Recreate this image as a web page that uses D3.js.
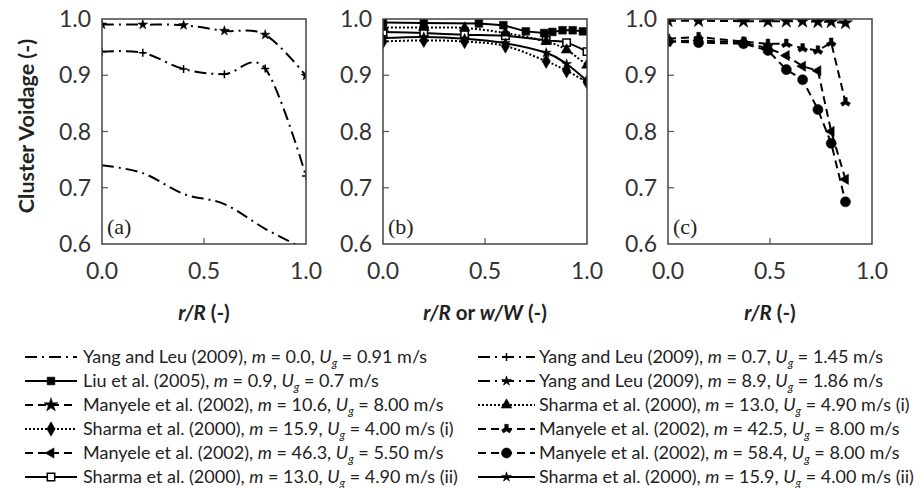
<!DOCTYPE html>
<html>
<head>
<meta charset="utf-8">
<script src="https://cdn.jsdelivr.net/npm/d3@7"></script>
<style>
  body { margin: 0; background: #fff; }
  svg { display: block; font-family: Lato, "Open Sans", sans-serif; }
</style>
</head>
<body>
<svg id="chart" width="919" height="488"></svg>
<script>
// data
const yTicks = [0.6, 0.7, 0.8, 0.9, 1.0]
const xTicks = [0.0, 0.5, 1.0]
const panelTags = ['(a)', '(b)', '(c)']
const xTitles = [['r/R', ' (-)'], ['r/R', ' or ', 'w/W', ' (-)'], ['r/R', ' (-)']]

const yangR = [0, 0.2, 0.4, 0.6, 0.8, 1.0]
const yang00 = [0.74, 0.726, 0.689, 0.671, 0.627, 0.59]
const yang07 = [0.942, 0.94, 0.911, 0.902, 0.912, 0.721]
const yang89 = [0.99, 0.99, 0.989, 0.979, 0.972, 0.899]
const liuW = [0, 0.2, 0.47, 0.59, 0.7, 0.79, 0.83, 0.88, 0.93, 0.98]
const liu09 = [0.994, 0.993, 0.992, 0.989, 0.978, 0.975, 0.977, 0.98, 0.98, 0.978]
const sharmaR = [0, 0.2, 0.4, 0.6, 0.8, 0.9, 1.0]
const sharma159i = [0.96, 0.962, 0.96, 0.952, 0.925, 0.908, 0.888]
const sharma159ii = [0.966, 0.968, 0.965, 0.957, 0.94, 0.92, 0.89]
const sharma130i = [0.985, 0.985, 0.984, 0.975, 0.96, 0.945, 0.918]
const sharma130ii = [0.977, 0.975, 0.972, 0.97, 0.962, 0.958, 0.942]
const manyeleR = [0, 0.15, 0.37, 0.49, 0.58, 0.66, 0.735, 0.8, 0.87]
const manyele106 = [0.997, 0.997, 0.996, 0.996, 0.996, 0.996, 0.995, 0.995, 0.993]
const manyele425 = [0.965, 0.968, 0.96, 0.956, 0.956, 0.948, 0.944, 0.958, 0.852]
const manyele463 = [0.96, 0.962, 0.958, 0.948, 0.935, 0.916, 0.908, 0.80, 0.715]
const manyele584 = [0.96, 0.958, 0.956, 0.944, 0.91, 0.892, 0.839, 0.779, 0.675]

// legend texts: [author, m, Ug, suffix]
const legendLeft = [
  ['Yang and Leu (2009)', '0.0', '0.91', ''],
  ['Liu et al. (2005)', '0.9', '0.7', ''],
  ['Manyele et al. (2002)', '10.6', '8.00', ''],
  ['Sharma et al. (2000)', '15.9', '4.00', ' (i)'],
  ['Manyele et al. (2002)', '46.3', '5.50', ''],
  ['Sharma et al. (2000)', '13.0', '4.90', ' (ii)']
]
const legendRight = [
  ['Yang and Leu (2009)', '0.7', '1.45', ''],
  ['Yang and Leu (2009)', '8.9', '1.86', ''],
  ['Sharma et al. (2000)', '13.0', '4.90', ' (i)'],
  ['Manyele et al. (2002)', '42.5', '8.00', ''],
  ['Manyele et al. (2002)', '58.4', '8.00', ''],
  ['Sharma et al. (2000)', '15.9', '4.00', ' (ii)']
]

// line looks
const dashDot = '12,5,2,5', dashed = '8,5', dotted = '2,2'
const pts = (xs, ys) => xs.map((x, i) => ({x, y: ys[i]}))

const series = [
  {panel: 0, data: pts(yangR, yang00), dash: dashDot, marker: null, smooth: true, legend: ['L', 0]},
  {panel: 0, data: pts(yangR, yang07), dash: dashDot, marker: 'plus', smooth: true, legend: ['R', 0]},
  {panel: 0, data: pts(yangR, yang89), dash: dashDot, marker: 'smallstar', smooth: true, legend: ['R', 1]},
  {panel: 1, data: pts(liuW, liu09), dash: null, marker: 'square', smooth: false, legend: ['L', 1]},
  {panel: 1, data: pts(sharmaR, sharma130ii), dash: null, marker: 'opensquare', smooth: true, legend: ['L', 5]},
  {panel: 1, data: pts(sharmaR, sharma130i), dash: dotted, marker: 'triangle', smooth: true, legend: ['R', 2]},
  {panel: 1, data: pts(sharmaR, sharma159ii), dash: null, marker: 'smallstar', smooth: true, legend: ['R', 5]},
  {panel: 1, data: pts(sharmaR, sharma159i), dash: dotted, marker: 'diamond', smooth: true, legend: ['L', 3]},
  {panel: 2, data: pts(manyeleR, manyele106), dash: dashed, marker: 'star', smooth: false, legend: ['L', 2]},
  {panel: 2, data: pts(manyeleR, manyele425), dash: dashed, marker: 'wye', smooth: false, legend: ['R', 3]},
  {panel: 2, data: pts(manyeleR, manyele463), dash: dashed, marker: 'wedge', smooth: false, legend: ['L', 4]},
  {panel: 2, data: pts(manyeleR, manyele584), dash: dashed, marker: 'circle', smooth: false, legend: ['R', 4]}
]

const svg = d3.select('#chart')
const panelLeft = [102, 383, 668]
const panelW = 204
const plotTop = 19, plotBottom = 244

const y = d3.scaleLinear().domain([0.6, 1.0]).range([plotBottom, plotTop])
const lineSmooth = d3.line().curve(d3.curveCardinal.tension(0))
const lineStraight = d3.line()

const drawMarker = (g, kind, cx, cy) => {
  if(!kind) return
  const sym = {
    square: [d3.symbolSquare, 60, 0],
    opensquare: [d3.symbolSquare, 55, 0],
    triangle: [d3.symbolTriangle, 50, 0],
    diamond: [d3.symbolDiamond, 60, 0],
    circle: [d3.symbolCircle, 80, 0],
    star: [d3.symbolStar, 60, 0],
    smallstar: [d3.symbolStar, 30, 0],
    wye: [d3.symbolWye, 45, 180],
    wedge: [d3.symbolTriangle, 45, 150]
  }
  if(kind === 'plus'){
    g.append('path')
      .attr('d', `M${cx-4},${cy}H${cx+4}M${cx},${cy-4}V${cy+4}`)
      .attr('stroke', '#000').attr('stroke-width', 1.5)
    return
  }
  const [type, size, rot] = sym[kind]
  g.append('path')
    .attr('d', d3.symbol().type(type).size(size)())
    .attr('transform', `translate(${cx},${cy}) rotate(${rot})`)
    .attr('fill', kind === 'opensquare' ? '#fff' : '#000')
    .attr('stroke', '#000')
    .attr('stroke-width', kind === 'opensquare' ? 1.5 : 0.5)
}

panelLeft.forEach((left, p) => {
  const x = d3.scaleLinear().domain([0, 1]).range([left, left + panelW])
  const g = svg.append('g').attr('class', 'panel').attr('id', 'panel' + p)

  g.append('clipPath').attr('id', 'clip' + p)
    .append('rect').attr('x', left).attr('y', plotTop).attr('width', panelW).attr('height', plotBottom - plotTop)

  // inward ticks
  g.selectAll('line.ytick').data(yTicks.slice(1, -1)).enter().append('line')
    .attr('class', 'ytick')
    .attr('x1', left).attr('x2', left + 6)
    .attr('y1', d => y(d)).attr('y2', d => y(d))
    .attr('stroke', '#555').attr('stroke-width', 1.2)
  g.selectAll('line.xtick').data(xTicks.slice(1, -1)).enter().append('line')
    .attr('class', 'xtick')
    .attr('x1', d => x(d)).attr('x2', d => x(d))
    .attr('y1', plotBottom).attr('y2', plotBottom - 6)
    .attr('stroke', '#555').attr('stroke-width', 1.2)

  g.selectAll('text.ylab').data(yTicks).enter().append('text')
    .attr('class', 'ylab')
    .attr('x', left - 11).attr('y', d => y(d) + 8)
    .attr('text-anchor', 'end')
    .attr('font-size', 23).attr('fill', '#333')
    .text(d => d.toFixed(1))
  g.selectAll('text.xlab').data(xTicks).enter().append('text')
    .attr('class', 'xlab')
    .attr('x', d => x(d)).attr('y', 279)
    .attr('text-anchor', 'middle')
    .attr('font-size', 23).attr('fill', '#333')
    .text(d => d.toFixed(1))

  // axis title
  const title = g.append('text')
    .attr('x', left + panelW / 2).attr('y', 320)
    .attr('text-anchor', 'middle')
    .attr('font-size', 20.5).attr('font-weight', 'bold').attr('fill', '#222')
  xTitles[p].forEach((part, i) => {
    title.append('tspan').attr('font-style', i % 2 === 0 ? 'italic' : 'normal').text(part)
  })

  // series
  const lines = g.append('g').attr('clip-path', `url(#clip${p})`)
  series.filter(s => s.panel === p).forEach(s => {
    const coords = s.data.map(d => [x(d.x), y(d.y)])
    lines.append('path')
      .attr('d', (s.smooth ? lineSmooth : lineStraight)(coords))
      .attr('fill', 'none').attr('stroke', '#000').attr('stroke-width', 2)
      .attr('stroke-dasharray', s.dash)
    coords.forEach(c => drawMarker(lines, s.marker, c[0], c[1]))
  })

  g.append('rect')
    .attr('x', left).attr('y', plotTop).attr('width', panelW).attr('height', plotBottom - plotTop)
    .attr('fill', 'none').attr('stroke', '#444').attr('stroke-width', 1.5)

  g.append('text')
    .attr('x', left + 5).attr('y', plotBottom - 10)
    .attr('font-family', '"Liberation Serif", "DejaVu Serif", serif')
    .attr('font-size', 22).attr('fill', '#222')
    .text(panelTags[p])
})

svg.append('text')
  .attr('transform', 'translate(34,126) rotate(-90)')
  .attr('text-anchor', 'middle')
  .attr('font-size', 21.5).attr('font-weight', 'bold').attr('fill', '#222')
  .text('Cluster Voidage (-)')

// legend
const legendCols = {L: {x0: 25, x1: 77, tx: 83, rows: legendLeft}, R: {x0: 478, x1: 535, tx: 539, rows: legendRight}}
const rowY = i => 357 + i * 24
const legendG = svg.append('g').attr('class', 'legend')

Object.keys(legendCols).forEach(key => {
  const col = legendCols[key]
  col.rows.forEach((row, i) => {
    const s = series.find(s => s.legend[0] === key && s.legend[1] === i)
    const cy = rowY(i)
    legendG.append('line')
      .attr('x1', col.x0).attr('x2', col.x1).attr('y1', cy).attr('y2', cy)
      .attr('stroke', '#000').attr('stroke-width', 2)
      .attr('stroke-dasharray', s.dash)
    drawMarker(legendG, s.marker, (col.x0 + col.x1) / 2, cy)
    const t = legendG.append('text')
      .attr('x', col.tx).attr('y', cy + 6)
      .attr('font-size', 18).attr('fill', '#222')
    t.append('tspan').text(row[0] + ', ')
    t.append('tspan').attr('font-style', 'italic').text('m')
    t.append('tspan').text(' = ' + row[1] + ', ')
    t.append('tspan').attr('font-style', 'italic').text('U')
    t.append('tspan').attr('font-style', 'italic').attr('font-size', 11.5).attr('dy', 4).text('g')
    t.append('tspan').attr('dy', -4).text(' = ' + row[2] + ' m/s' + row[3])
  })
})
</script>
</body>
</html>
